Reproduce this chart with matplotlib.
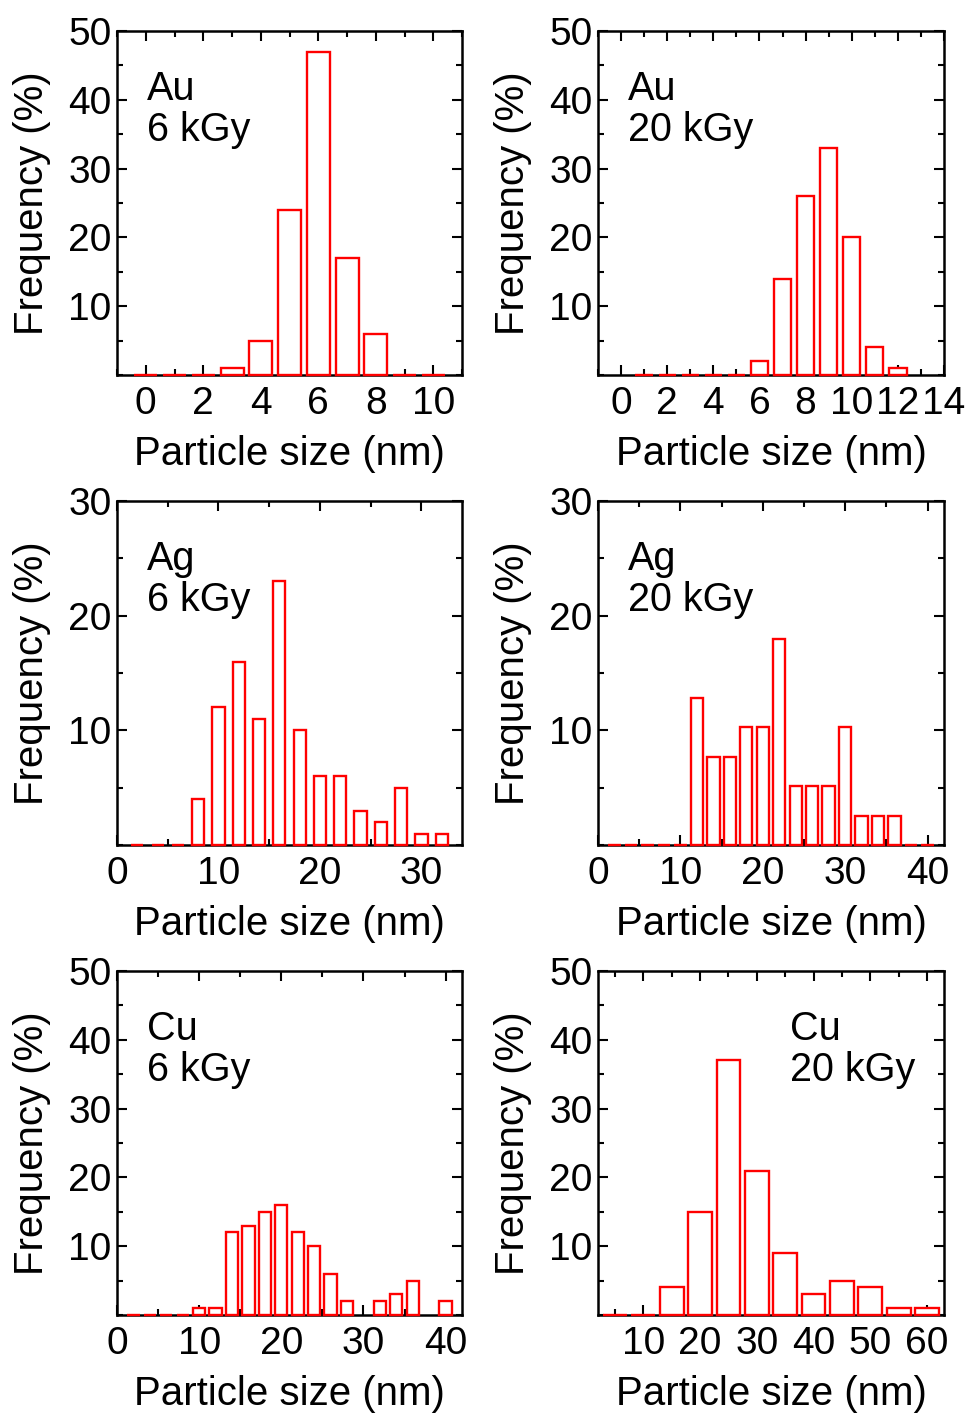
import matplotlib
matplotlib.use("Agg")
import matplotlib.pyplot as plt
from matplotlib.ticker import MultipleLocator, FixedLocator

plt.rcParams['font.family'] = ['Liberation Sans', 'DejaVu Sans']

# ---------------- data ----------------
au6_size = [0, 1, 2, 3, 4, 5, 6, 7, 8, 9, 10]
au6_freq = [0, 0, 0, 1, 5, 24, 47, 17, 6, 0, 0]

au20_size = [1, 2, 3, 4, 5, 6, 7, 8, 9, 10, 11, 12]
au20_freq = [0, 0, 0, 0, 0, 2, 14, 26, 33, 20, 4, 1]

ag6_size = [2, 4, 6, 8, 10, 12, 14, 16, 18, 20, 22, 24, 26, 28, 30, 32]
ag6_freq = [0, 0, 0, 4, 12, 16, 11, 23, 10, 6, 6, 3, 2, 5, 1, 1]

ag20_size = [2, 4, 6, 8, 10, 12, 14, 16, 18, 20, 22, 24, 26, 28, 30, 32, 34, 36, 38, 40]
ag20_freq = [0, 0, 0, 0, 0, 12.82, 7.69, 7.69, 10.26, 10.26, 17.95, 5.13, 5.13, 5.13,
             10.26, 2.56, 2.56, 2.56, 0, 0]

cu6_size = [2, 4, 6, 8, 10, 12, 14, 16, 18, 20, 22, 24, 26, 28, 32, 34, 36, 40]
cu6_freq = [0, 0, 0, 0, 1, 1, 12, 13, 15, 16, 12, 10, 6, 2, 2, 3, 5, 2]

cu20_size = [5, 10, 15, 20, 25, 30, 35, 40, 45, 50, 55, 60]
cu20_freq = [0, 0, 4, 15, 37, 21, 9, 3, 5, 4, 1, 1]

metals = ["Au", "Au", "Ag", "Ag", "Cu", "Cu"]
doses = ["6 kGy", "20 kGy", "6 kGy", "20 kGy", "6 kGy", "20 kGy"]

x_label = "Particle size (nm)"
y_label = "Frequency (%)"

# ---------------- layout ----------------
W, H = 968, 1416
fig = plt.figure(figsize=(W / 100, H / 100), dpi=100)

col_left = [117, 598]
col_w = [345, 346]
row_top = [31, 501, 971]
row_h = 344

panels = [
    dict(x=au6_size, y=au6_freq, w=0.8, xlim=(-1, 11), ymax=50,
         xmaj=list(range(0, 11, 2)), xmin=1, tx=0.087, r=0, c=0),
    dict(x=au20_size, y=au20_freq, w=0.75, xlim=(-1, 14), ymax=50,
         xmaj=list(range(0, 15, 2)), xmin=1, tx=0.087, r=0, c=1),
    dict(x=ag6_size, y=ag6_freq, w=1.2, xlim=(0, 34), ymax=30,
         xmaj=[0, 10, 20, 30], xmin=5, tx=0.087, r=1, c=0),
    dict(x=ag20_size, y=ag20_freq, w=1.5, xlim=(0, 42), ymax=30,
         xmaj=[0, 10, 20, 30, 40], xmin=5, tx=0.087, r=1, c=1),
    dict(x=cu6_size, y=cu6_freq, w=1.5, xlim=(0, 42), ymax=50,
         xmaj=[0, 10, 20, 30, 40], xmin=5, tx=0.087, r=2, c=0),
    dict(x=cu20_size, y=cu20_freq, w=4.2, xlim=(2, 63), ymax=50,
         xmaj=[10, 20, 30, 40, 50, 60], xmin=5, tx=0.555, r=2, c=1),
]

TICK_FS = 28
LABEL_FS = 29
TEXT_FS = 28.5

for i, p in enumerate(panels):
    left = col_left[p['c']] / W
    width = col_w[p['c']] / W
    bottom = 1 - (row_top[p['r']] + row_h) / H
    height = row_h / H
    ax = fig.add_axes([left, bottom, width, height])

    bars = ax.bar(p['x'], p['y'], width=p['w'], facecolor='white',
                  edgecolor='#ff0000', linewidth=1.7, zorder=3)
    for b in bars:
        b.set_clip_on(False)

    ax.set_xlim(*p['xlim'])
    ax.set_ylim(0, p['ymax'])
    ax.xaxis.set_major_locator(FixedLocator(p['xmaj']))
    ax.xaxis.set_minor_locator(MultipleLocator(p['xmin']))
    ax.yaxis.set_major_locator(FixedLocator(list(range(10, p['ymax'] + 1, 10))))
    ax.yaxis.set_minor_locator(MultipleLocator(5))

    ax.tick_params(which='both', direction='in', top=True, right=True,
                   width=1.5, color='black')
    ax.tick_params(which='major', length=7.5, labelsize=TICK_FS)
    ax.tick_params(axis='x', which='major', pad=8)
    ax.tick_params(axis='y', which='major', pad=4)
    ax.tick_params(which='minor', length=4)
    for s in ax.spines.values():
        s.set_linewidth(1.8)
        s.set_zorder(2.5)

    ax.set_xlabel(x_label, fontsize=LABEL_FS, labelpad=9)
    ax.set_ylabel(y_label, fontsize=LABEL_FS, labelpad=12)

    ax.text(p['tx'], 0.80, metals[i], transform=ax.transAxes,
            fontsize=TEXT_FS, ha='left', va='baseline')
    ax.text(p['tx'], 0.68, doses[i], transform=ax.transAxes,
            fontsize=TEXT_FS, ha='left', va='baseline')

fig.savefig("out.png", dpi=100)
